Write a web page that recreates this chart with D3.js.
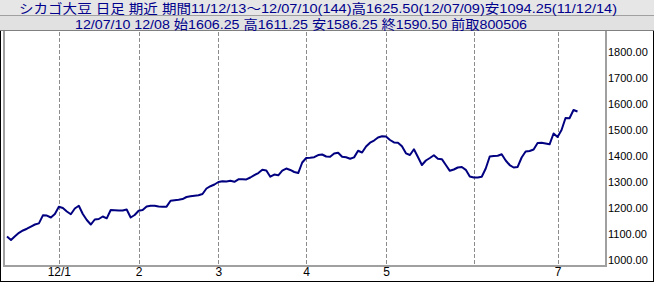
<!DOCTYPE html>
<html>
<head>
<meta charset="utf-8">
<script src="https://cdn.jsdelivr.net/npm/d3@7"></script>
<style>
  body { margin: 0; background: #fff; }
  svg { display: block; }
</style>
</head>
<body>
<div id="chart"></div>
<script>
var width = 654;
var height = 282;

var title1 = "シカゴ大豆 日足 期近 期間11/12/13～12/07/10(144)高1625.50(12/07/09)安1094.25(11/12/14)";
var title2 = "12/07/10 12/08 始1606.25 高1611.25 安1586.25 終1590.50 前取800506";

// trading days, yy/mm/dd
var dates = [
  "11/12/13","11/12/14","11/12/15","11/12/16","11/12/19","11/12/20","11/12/21","11/12/22","11/12/23","11/12/27","11/12/28","11/12/29","11/12/30",
  "12/01/03","12/01/04","12/01/05","12/01/06","12/01/09","12/01/10","12/01/11","12/01/12","12/01/13","12/01/17","12/01/18","12/01/19","12/01/20","12/01/23","12/01/24","12/01/25","12/01/26","12/01/27","12/01/30","12/01/31",
  "12/02/01","12/02/02","12/02/03","12/02/06","12/02/07","12/02/08","12/02/09","12/02/10","12/02/13","12/02/14","12/02/15","12/02/16","12/02/17","12/02/21","12/02/22","12/02/23","12/02/24","12/02/27","12/02/28","12/02/29",
  "12/03/01","12/03/02","12/03/05","12/03/06","12/03/07","12/03/08","12/03/09","12/03/12","12/03/13","12/03/14","12/03/15","12/03/16","12/03/19","12/03/20","12/03/21","12/03/22","12/03/23","12/03/26","12/03/27","12/03/28","12/03/29","12/03/30",
  "12/04/02","12/04/03","12/04/04","12/04/05","12/04/09","12/04/10","12/04/11","12/04/12","12/04/13","12/04/16","12/04/17","12/04/18","12/04/19","12/04/20","12/04/23","12/04/24","12/04/25","12/04/26","12/04/27","12/04/30",
  "12/05/01","12/05/02","12/05/03","12/05/04","12/05/07","12/05/08","12/05/09","12/05/10","12/05/11","12/05/14","12/05/15","12/05/16","12/05/17","12/05/18","12/05/21","12/05/22","12/05/23","12/05/24","12/05/25","12/05/29","12/05/30","12/05/31",
  "12/06/01","12/06/04","12/06/05","12/06/06","12/06/07","12/06/08","12/06/11","12/06/12","12/06/13","12/06/14","12/06/15","12/06/18","12/06/19","12/06/20","12/06/21","12/06/22","12/06/25","12/06/26","12/06/27","12/06/28","12/06/29",
  "12/07/02","12/07/03","12/07/05","12/07/06","12/07/09","12/07/10"
];

var closes = [
  1109.5, 1096.25, 1110.5, 1123.75, 1132.75, 1139.5, 1148, 1155.75, 1160, 1191, 1190.25, 1182.75, 1196,
  1224.25, 1219.25, 1205.75, 1195, 1217.25, 1228, 1196, 1173, 1155.75, 1175, 1177, 1186.5, 1179.5, 1211.5, 1210.75, 1209.5, 1209.75, 1213.5, 1182.75, 1192.25,
  1208.75, 1211.5, 1225, 1228, 1228.25, 1225, 1224.25, 1224.5, 1247.25, 1249.25, 1251, 1253.75, 1261.5, 1264.5, 1266.5, 1268, 1273, 1294.25, 1303, 1309.5,
  1319.25, 1322.25, 1321, 1323.75, 1320, 1329.5, 1329.75, 1329.25, 1336.5, 1346, 1353.75, 1366, 1363.5, 1339.5, 1348, 1345, 1363.25, 1371, 1365.5, 1357.75, 1353.75, 1394.25,
  1411.5, 1412.75, 1414.5, 1423, 1425, 1417.25, 1416.5, 1428.75, 1432, 1416.25, 1414.25, 1408.5, 1414, 1439.25, 1432.75, 1455.75, 1470.5, 1478.75, 1490.5, 1495,
  1494.25, 1480.75, 1471.5, 1470.5, 1456.5, 1429.5, 1423, 1445, 1415.5, 1384.5, 1402, 1411.5, 1422, 1408.25, 1407, 1384.75, 1362.25, 1367.25, 1375, 1377, 1366, 1340.5,
  1336.5, 1336.75, 1339.5, 1371, 1417.25, 1419.25, 1420, 1425.75, 1402, 1384.5, 1375, 1377, 1413.5, 1436.5, 1438.5, 1444.25, 1469.25, 1470.5, 1467.25, 1464.25,
  1505.75, 1492.25, 1519.25, 1565.5, 1564.25, 1596.25, 1590.5
];

var monthStarts = ["12/01/03","12/02/01","12/03/01","12/04/02","12/05/01","12/06/01","12/07/02"];
var monthLabels = ["12/1","2","3","4","5","","7"];
var yTicks = [1000, 1100, 1200, 1300, 1400, 1500, 1600, 1700, 1800];

var svg = d3.select("#chart")
            .append("svg")
            .attr("width", width)
            .attr("height", height);

var plotLeft = 4, plotRight = 606, plotTop = 31, plotBottom = 266;

var x = d3.scalePoint()
          .domain(dates)
          .range([7, 577.5]);

var y = d3.scaleLinear()
          .domain([1000, 1900])
          .range([265, 31]);

// outer frame
svg.append("rect")
   .attr("x", 0.5).attr("y", 0.5)
   .attr("width", width - 1).attr("height", height - 1)
   .attr("fill", "#fff").attr("stroke", "#000");

// header
svg.append("rect").attr("x", 0).attr("y", 0).attr("width", width).attr("height", 16).attr("fill", "#e6e6e6");
svg.append("rect").attr("x", 0).attr("y", 16).attr("width", width).attr("height", 15).attr("fill", "#e1e1e1");
svg.append("line").attr("x1", 0).attr("x2", width).attr("y1", 15.5).attr("y2", 15.5).attr("stroke", "#a0a0a0");
svg.append("line").attr("x1", 0).attr("x2", width).attr("y1", 30.5).attr("y2", 30.5).attr("stroke", "#808080");

var headFont = "'Liberation Sans', 'Noto Sans CJK JP', sans-serif";

svg.append("text")
   .attr("x", 19).attr("y", 13)
   .attr("textLength", 598).attr("lengthAdjust", "spacingAndGlyphs")
   .attr("font-family", headFont)
   .attr("font-size", 13)
   .attr("fill", "#00008c")
   .text(title1);

svg.append("text")
   .attr("x", 75).attr("y", 28.5)
   .attr("textLength", 452).attr("lengthAdjust", "spacingAndGlyphs")
   .attr("font-family", headFont)
   .attr("font-size", 13)
   .attr("fill", "#00008c")
   .text(title2);

// month grid
svg.selectAll("line.grid")
   .data(monthStarts)
   .enter()
   .append("line")
   .attr("class", "grid")
   .attr("x1", function(d){ return Math.round(x(d)) + 0.5; })
   .attr("x2", function(d){ return Math.round(x(d)) + 0.5; })
   .attr("y1", plotTop + 1)
   .attr("y2", plotBottom - 1)
   .attr("stroke", "#8c8c8c")
   .attr("stroke-dasharray", "4,2");

// plot frame
svg.append("path")
   .attr("d", "M" + plotLeft + "," + plotTop + "V" + plotBottom + "H" + plotRight + "V" + plotTop)
   .attr("fill", "none")
   .attr("stroke", "#a0a0a0")
   .attr("stroke-width", 2);

// price line
var line = d3.line()
             .x(function(d, i){ return x(dates[i]); })
             .y(function(d){ return y(d); });

svg.append("path")
   .datum(closes)
   .attr("d", line)
   .attr("fill", "none")
   .attr("stroke", "#000080")
   .attr("stroke-width", 2)
   .attr("stroke-linejoin", "round");

// y axis labels
var yAxis = svg.append("g")
               .attr("transform", "translate(607,0)")
               .call(d3.axisRight(y)
                       .tickValues(yTicks)
                       .tickSize(0)
                       .tickPadding(1)
                       .tickFormat(function(d){ return d.toFixed(2); }));
yAxis.select(".domain").remove();
yAxis.selectAll("text")
     .attr("dy", "-0.15em")
     .attr("font-family", "'Liberation Sans', Arial, sans-serif")
     .attr("font-size", 11)
     .attr("fill", "#000");

// x axis labels
var xAxis = svg.append("g")
               .attr("transform", "translate(0," + plotBottom + ")")
               .call(d3.axisBottom(x)
                       .tickValues(monthStarts)
                       .tickSize(0)
                       .tickPadding(1)
                       .tickFormat(function(d, i){ return monthLabels[i]; }));
xAxis.select(".domain").remove();
xAxis.selectAll("text")
     .attr("font-family", "'Liberation Sans', Arial, sans-serif")
     .attr("font-size", 12)
     .attr("fill", "#000");
</script>
</body>
</html>
